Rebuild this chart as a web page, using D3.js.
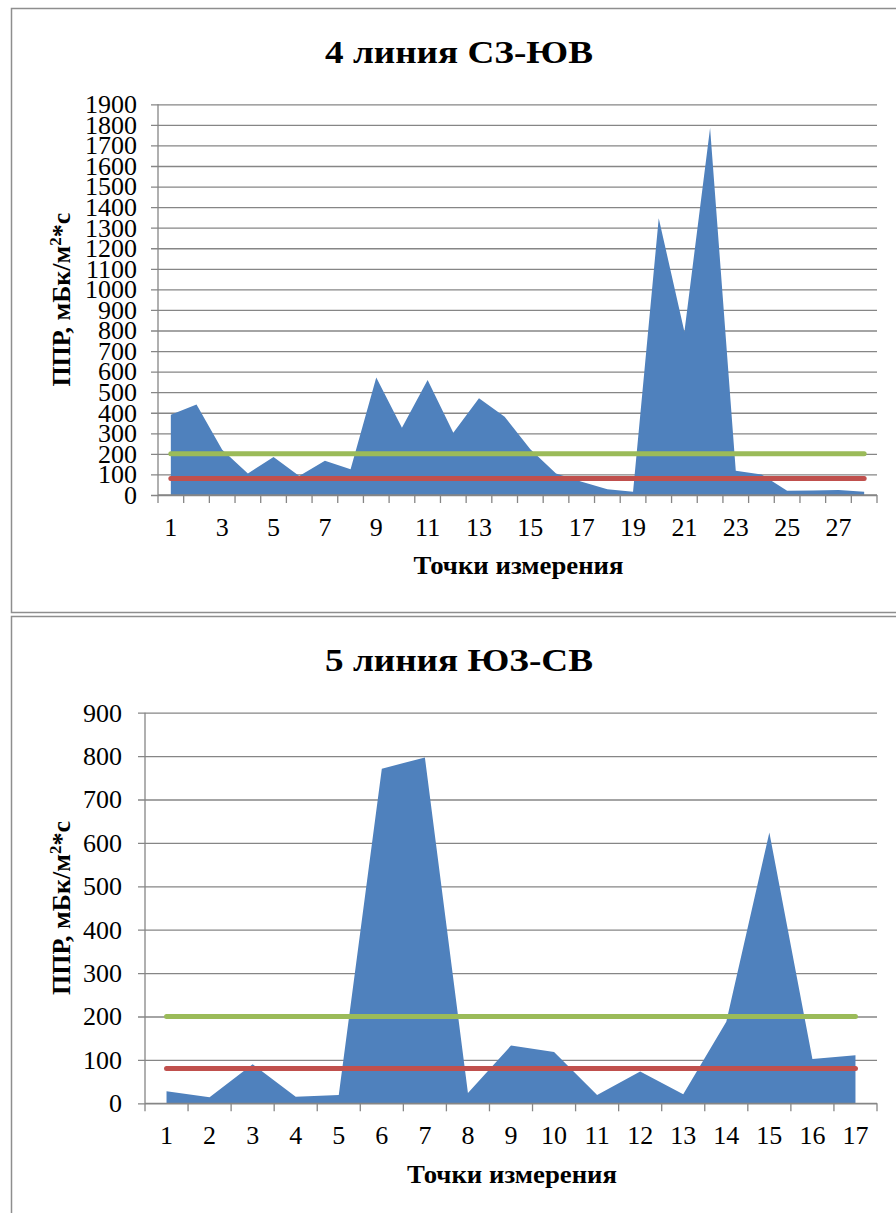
<!DOCTYPE html>
<html>
<head>
<meta charset="utf-8">
<script src="https://cdn.jsdelivr.net/npm/d3@7"></script>
<style>
  html, body { margin: 0; padding: 0; background: #fff; }
  svg { display: block; }
  text { font-family: "Liberation Serif", "Times New Roman", serif; fill: #000; }
</style>
</head>
<body>
<svg id="chart" width="896" height="1213"></svg>
<script>
// --- data ---
var points4 = [1, 2, 3, 4, 5, 6, 7, 8, 9, 10, 11, 12, 13, 14, 15, 16, 17, 18, 19, 20, 21, 22, 23, 24, 25, 26, 27, 28];
var values4 = [390, 440, 220, 105, 185, 92, 167, 125, 572, 327, 559, 303, 470, 381, 222, 105, 65, 28, 16, 1346, 794, 1785, 118, 100, 21, 22, 24, 16];
var yTicks4 = [0, 100, 200, 300, 400, 500, 600, 700, 800, 900, 1000, 1100, 1200, 1300, 1400, 1500, 1600, 1700, 1800, 1900];

var points5 = [1, 2, 3, 4, 5, 6, 7, 8, 9, 10, 11, 12, 13, 14, 15, 16, 17];
var values5 = [28, 14, 90, 15, 19, 771, 797, 24, 133, 118, 19, 73, 21, 188, 624, 102, 111];
var yTicks5 = [0, 100, 200, 300, 400, 500, 600, 700, 800, 900];

var upperLimit = 200;   // green line
var lowerLimit = 80;    // red line

var titles = ["4 линия СЗ-ЮВ", "5 линия ЮЗ-СВ"];
var xTitle = "Точки измерения";

var svg = d3.select("#chart");

function drawChart(opt) {
  var g = svg.append("g");

  // frame
  g.append("rect")
    .attr("x", opt.frame[0] + 0.5).attr("y", opt.frame[1] + 0.5)
    .attr("width", opt.frame[2]).attr("height", opt.frame[3])
    .attr("fill", "none").attr("stroke", "#8e8e8e").attr("stroke-width", 1.5);

  var x = d3.scaleBand()
    .domain(opt.points)
    .range([opt.left, opt.right])
    .padding(0);
  var cx = function(d) { return x(d) + x.bandwidth() / 2; };

  var y = d3.scaleLinear()
    .domain([0, d3.max(opt.yTicks)])
    .range([opt.bottom, opt.top]);

  // grid lines + y tick marks
  g.append("g")
    .attr("transform", "translate(" + opt.left + ",0)")
    .call(d3.axisLeft(y).tickValues(opt.yTicks).tickSize(-(opt.right - opt.left)).tickFormat(""))
    .call(function(a) {
      a.select(".domain").remove();
      a.selectAll("line").attr("stroke", "#868686").attr("stroke-width", 1.3).attr("x1", -7);
    });

  // y axis line
  g.append("line")
    .attr("x1", opt.left).attr("x2", opt.left)
    .attr("y1", opt.top).attr("y2", opt.bottom)
    .attr("stroke", "#868686").attr("stroke-width", 1.3);

  // area
  var area = d3.area()
    .x(function(d, i) { return cx(opt.points[i]); })
    .y0(y(0))
    .y1(function(d) { return y(d); });
  g.append("path")
    .datum(opt.values)
    .attr("d", area)
    .attr("fill", "#4f81bd");

  // x axis with ticks on category boundaries
  var bounds = opt.points.map(function(d) { return x(d); }).concat([opt.right]);
  var xAxis = g.append("g");
  xAxis.append("line")
    .attr("x1", opt.left).attr("x2", opt.right)
    .attr("y1", opt.bottom).attr("y2", opt.bottom)
    .attr("stroke", "#868686").attr("stroke-width", 1.3);
  xAxis.selectAll("line.tick")
    .data(bounds)
    .join("line")
    .attr("class", "tick")
    .attr("x1", function(d) { return d; }).attr("x2", function(d) { return d; })
    .attr("y1", opt.bottom).attr("y2", opt.bottom + 8)
    .attr("stroke", "#868686").attr("stroke-width", 1.3);

  xAxis.selectAll("text")
    .data(opt.points.filter(function(d, i) { return i % opt.labelStep === 0; }))
    .join("text")
    .attr("x", cx)
    .attr("y", opt.xLabelY)
    .attr("text-anchor", "middle")
    .style("font-size", "26px")
    .text(function(d) { return d; });

  // y tick labels
  g.append("g").selectAll("text")
    .data(opt.yTicks)
    .join("text")
    .attr("x", opt.yLabelX)
    .attr("y", function(d) { return y(d); })
    .attr("dy", "0.34em")
    .attr("text-anchor", "end")
    .style("font-size", "26px")
    .text(function(d) { return d; });

  // limit lines
  [[upperLimit, "#9bbb59"], [lowerLimit, "#c0504d"]].forEach(function(l) {
    var line = d3.line()
      .x(function(d) { return cx(d); })
      .y(function() { return y(l[0]); });
    g.append("path")
      .datum(opt.points)
      .attr("d", line)
      .attr("fill", "none")
      .attr("stroke", l[1])
      .attr("stroke-width", 5)
      .attr("stroke-linecap", "round");
  });

  // titles
  g.append("text")
    .attr("x", 459).attr("y", opt.titleY)
    .attr("text-anchor", "middle")
    .attr("textLength", 268).attr("lengthAdjust", "spacingAndGlyphs")
    .style("font-size", "32px").style("font-weight", "bold")
    .text(opt.title);

  g.append("text")
    .attr("x", (opt.left + opt.right) / 2 + 1).attr("y", opt.xTitleY)
    .attr("text-anchor", "middle")
    .attr("textLength", 210).attr("lengthAdjust", "spacingAndGlyphs")
    .style("font-size", "25px").style("font-weight", "bold")
    .text(xTitle);

  var yt = g.append("text")
    .attr("transform", "translate(70," + ((opt.top + opt.bottom) / 2) + ") rotate(-90)")
    .attr("text-anchor", "middle")
    .style("font-size", "26px").style("font-weight", "bold");
  yt.append("tspan").text("ППР, мБк/м");
  yt.append("tspan").attr("dy", -9).style("font-size", "17px").text("2");
  yt.append("tspan").attr("dy", 9).text("*с");
}

drawChart({
  frame: [11, 8, 900, 604],
  points: points4, values: values4, yTicks: yTicks4,
  left: 158, right: 877, top: 104.3, bottom: 495,
  labelStep: 2, xLabelY: 536, yLabelX: 137,
  title: titles[0], titleY: 63, xTitleY: 574
});

drawChart({
  frame: [11, 616, 900, 620],
  points: points5, values: values5, yTicks: yTicks5,
  left: 145, right: 877, top: 712.7, bottom: 1103.3,
  labelStep: 1, xLabelY: 1144, yLabelX: 122,
  title: titles[1], titleY: 671, xTitleY: 1183
});
</script>
</body>
</html>
